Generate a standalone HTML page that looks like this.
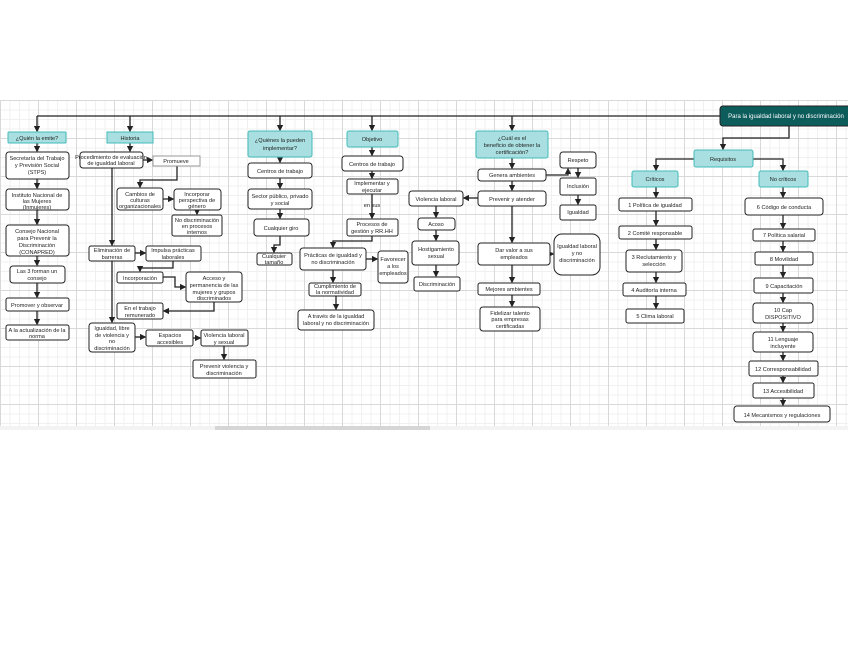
<!DOCTYPE html>
<html><head><meta charset="utf-8"><style>
html,body{margin:0;padding:0;background:#fff;}
body{width:848px;height:655px;position:relative;overflow:hidden;font-family:"Liberation Sans",sans-serif;}
.grid{position:absolute;left:0;top:100px;width:848px;height:326px;background-color:#fff;
background-image:linear-gradient(#d9d9d9 1px,transparent 1px),linear-gradient(90deg,#d9d9d9 1px,transparent 1px),linear-gradient(#f0f0f0 1px,transparent 1px),linear-gradient(90deg,#f0f0f0 1px,transparent 1px);
background-size:38px 38px,38px 38px,9.5px 9.5px,9.5px 9.5px;}
.sb{position:absolute;left:215px;top:426px;width:215px;height:4px;background:#d6d6d6;}
.sbt{position:absolute;left:0;top:426px;width:848px;height:4px;background:#f3f3f3;}
svg{position:absolute;left:0;top:0;}
text{font-family:"Liberation Sans",sans-serif;font-size:5.6px;fill:#222;text-anchor:middle;}
</style></head><body>
<div class="grid"></div><div class="sbt"></div><div class="sb"></div>
<svg width="848" height="655" viewBox="0 0 848 655">
<defs><marker id="a" markerWidth="5" markerHeight="5" refX="4" refY="2.5" orient="auto"><path d="M0,0L5,2.5L0,5z" fill="#222"/></marker></defs>
<g stroke="#222" stroke-width="1.3" fill="none">
<path d="M37,116H720"/>
<path d="M37,116V131" marker-end="url(#a)"/><path d="M130,116V131" marker-end="url(#a)"/><path d="M280,116V130" marker-end="url(#a)"/><path d="M372,116V130" marker-end="url(#a)"/><path d="M512,116V130" marker-end="url(#a)"/>
<path d="M789,126V138H723V149" marker-end="url(#a)"/>
<path d="M694,159H656V170" marker-end="url(#a)"/><path d="M753,159H783V170" marker-end="url(#a)"/>
<!-- col1 -->
<path d="M37,143V151" marker-end="url(#a)"/><path d="M37,179V188" marker-end="url(#a)"/><path d="M37,210V224" marker-end="url(#a)"/><path d="M37,256V265" marker-end="url(#a)"/><path d="M37,283V297" marker-end="url(#a)"/><path d="M37,311V324" marker-end="url(#a)"/>
<!-- col2 -->
<path d="M130,143V151" marker-end="url(#a)"/><path d="M143,160H152" marker-end="url(#a)"/><path d="M177,166V180H140V187" marker-end="url(#a)"/><path d="M163,199H173" marker-end="url(#a)"/><path d="M197,210V214" marker-end="url(#a)"/>
<path d="M112,168V245" marker-end="url(#a)"/><path d="M135,253H145" marker-end="url(#a)"/><path d="M173,261V268H140V271" marker-end="url(#a)"/><path d="M163,277H175V287H185" marker-end="url(#a)"/><path d="M214,302V311H164" marker-end="url(#a)"/><path d="M112,261V322" marker-end="url(#a)"/><path d="M135,337H145" marker-end="url(#a)"/><path d="M193,338H200" marker-end="url(#a)"/><path d="M224,346V359" marker-end="url(#a)"/>
<!-- col3 -->
<path d="M280,157V162" marker-end="url(#a)"/><path d="M280,178V188" marker-end="url(#a)"/><path d="M280,209V218" marker-end="url(#a)"/><path d="M280,236V245H274V252" marker-end="url(#a)"/>
<!-- col4 -->
<path d="M372,147V155" marker-end="url(#a)"/><path d="M372,171V178" marker-end="url(#a)"/><path d="M372,194V218" marker-end="url(#a)"/><path d="M372,236V241H333V247" marker-end="url(#a)"/><path d="M366,259H377" marker-end="url(#a)"/><path d="M333,270V282" marker-end="url(#a)"/><path d="M336,296V309" marker-end="url(#a)"/>
<!-- col5 -->
<path d="M512,158V168" marker-end="url(#a)"/><path d="M512,181V190" marker-end="url(#a)"/><path d="M478,198H464" marker-end="url(#a)"/><path d="M436,206V217" marker-end="url(#a)"/><path d="M436,230V240" marker-end="url(#a)"/><path d="M436,265V276" marker-end="url(#a)"/>
<path d="M512,206V242" marker-end="url(#a)"/><path d="M550,254H553" marker-end="url(#a)"/><path d="M512,265V282" marker-end="url(#a)"/><path d="M512,295V306" marker-end="url(#a)"/>
<path d="M546,175H568V169" marker-end="url(#a)"/><path d="M578,168V177" marker-end="url(#a)"/><path d="M578,195V204" marker-end="url(#a)"/>
<!-- crit -->
<path d="M656,187V197" marker-end="url(#a)"/><path d="M656,211V225" marker-end="url(#a)"/><path d="M656,239V249" marker-end="url(#a)"/><path d="M656,272V282" marker-end="url(#a)"/><path d="M656,296V308" marker-end="url(#a)"/>
<path d="M783,187V197" marker-end="url(#a)"/><path d="M783,215V228" marker-end="url(#a)"/><path d="M783,241V251" marker-end="url(#a)"/><path d="M783,265V277" marker-end="url(#a)"/><path d="M783,293V302" marker-end="url(#a)"/><path d="M783,323V331" marker-end="url(#a)"/><path d="M783,352V360" marker-end="url(#a)"/><path d="M783,376V382" marker-end="url(#a)"/><path d="M783,398V405" marker-end="url(#a)"/>
</g>
<g stroke="#222" stroke-width="1" fill="#fff">
<rect x="720" y="106" width="132" height="20" rx="3" fill="#0d5c5c"/>
<g fill="#a9dfe0" stroke="#4bb"><rect x="8" y="132" width="58" height="11" rx="1"/><rect x="107" y="132" width="46" height="11"/><rect x="248" y="131" width="64" height="26" rx="2"/><rect x="347" y="131" width="51" height="16" rx="2"/><rect x="476" y="131" width="72" height="27" rx="2"/><rect x="694" y="150" width="59" height="17" rx="2"/><rect x="632" y="171" width="46" height="16" rx="2"/><rect x="759" y="171" width="49" height="16" rx="2"/></g>
<rect x="6" y="152" width="63" height="27" rx="3"/><rect x="6" y="189" width="63" height="21" rx="3"/><rect x="6" y="225" width="63" height="31" rx="3"/><rect x="10" y="266" width="55" height="17" rx="3"/><rect x="6" y="298" width="63" height="13" rx="2"/><rect x="6" y="325" width="63" height="15" rx="2"/>
<rect x="80" y="152" width="63" height="16" rx="3"/><rect x="153" y="156" width="47" height="10" stroke="#999"/><rect x="117" y="188" width="46" height="22" rx="3"/><rect x="174" y="189" width="47" height="21" rx="3"/><rect x="172" y="215" width="50" height="21" rx="2"/><rect x="89" y="246" width="46" height="15" rx="2"/><rect x="146" y="246" width="55" height="15" rx="2"/><rect x="117" y="272" width="46" height="11" rx="2"/><rect x="186" y="272" width="56" height="30" rx="3"/><rect x="117" y="303" width="46" height="16" rx="2"/><rect x="89" y="323" width="46" height="29" rx="3"/><rect x="146" y="330" width="47" height="16" rx="2"/><rect x="201" y="330" width="47" height="16" rx="2"/><rect x="193" y="360" width="63" height="18" rx="2"/>
<rect x="248" y="163" width="64" height="15" rx="3"/><rect x="248" y="189" width="64" height="20" rx="3"/><rect x="254" y="219" width="55" height="17" rx="3"/><rect x="257" y="253" width="35" height="12" rx="2"/>
<rect x="342" y="156" width="61" height="15" rx="3"/><rect x="347" y="179" width="51" height="15" rx="2"/><rect x="347" y="219" width="51" height="17" rx="2"/><rect x="300" y="248" width="66" height="22" rx="3"/><rect x="378" y="251" width="30" height="32" rx="3"/><rect x="309" y="283" width="52" height="13" rx="2"/><rect x="298" y="310" width="76" height="20" rx="3"/>
<rect x="478" y="169" width="68" height="12" rx="3"/><rect x="478" y="191" width="68" height="15" rx="3"/><rect x="409" y="191" width="54" height="15" rx="3"/><rect x="418" y="218" width="37" height="12" rx="3"/><rect x="412" y="241" width="47" height="24" rx="3"/><rect x="414" y="277" width="46" height="14" rx="2"/><rect x="478" y="243" width="72" height="22" rx="3"/><rect x="478" y="283" width="62" height="12" rx="2"/><rect x="480" y="307" width="60" height="24" rx="3"/><rect x="554" y="234" width="46" height="41" rx="8"/><rect x="560" y="152" width="36" height="16" rx="3"/><rect x="560" y="178" width="36" height="17" rx="2"/><rect x="560" y="205" width="36" height="15" rx="2"/>
<rect x="619" y="198" width="73" height="13" rx="2"/><rect x="619" y="226" width="73" height="13" rx="2"/><rect x="626" y="250" width="56" height="22" rx="3"/><rect x="623" y="283" width="63" height="13" rx="2"/><rect x="626" y="309" width="58" height="14" rx="2"/>
<rect x="745" y="198" width="78" height="17" rx="3"/><rect x="753" y="229" width="62" height="12" rx="2"/><rect x="755" y="252" width="58" height="13" rx="2"/><rect x="754" y="278" width="59" height="15" rx="2"/><rect x="753" y="303" width="60" height="20" rx="3"/><rect x="753" y="332" width="60" height="20" rx="3"/><rect x="749" y="361" width="69" height="15" rx="2"/><rect x="753" y="383" width="61" height="15" rx="2"/><rect x="734" y="406" width="96" height="16" rx="3"/>
</g>
<g>
<text x="786" y="118" style="fill:#fff;font-size:6px">Para la igualdad laboral y no discriminación</text>
<text x="37" y="140">¿Quién la emite?</text><text x="130" y="140">Historia</text>
<text x="280" y="142">¿Quiénes la pueden</text><text x="280" y="150">implementar?</text>
<text x="372" y="141">Objetivo</text>
<text x="512" y="140">¿Cuál es el</text><text x="512" y="147">beneficio de obtener la</text><text x="512" y="154">certificación?</text>
<text x="723" y="161">Requisitos</text><text x="655" y="181">Críticos</text><text x="783" y="181">No críticos</text>
<text x="37" y="160">Secretaría del Trabajo</text><text x="37" y="167">y Previsión Social</text><text x="37" y="174">(STPS)</text>
<text x="37" y="197">Instituto Nacional de</text><text x="37" y="203">las Mujeres</text><text x="37" y="209">(Inmujeres)</text>
<text x="37" y="233">Consejo Nacional</text><text x="37" y="240">para Prevenir la</text><text x="37" y="247">Discriminación</text><text x="37" y="254">(CONAPRED)</text>
<text x="37" y="273">Las 3 forman un</text><text x="37" y="280">consejo</text>
<text x="37" y="307">Promover y observar</text><text x="37" y="332">A la actualización de la</text><text x="37" y="338">norma</text>
<text x="111" y="159">Procedimiento de evaluación</text><text x="111" y="165">de igualdad laboral</text><text x="176" y="163">Promueve</text>
<text x="140" y="196">Cambios de</text><text x="140" y="202">culturas</text><text x="140" y="208">organizacionales</text>
<text x="197" y="196">Incorporar</text><text x="197" y="202">perspectiva de</text><text x="197" y="208">género</text>
<text x="197" y="222">No discriminación</text><text x="197" y="228">en procesos</text><text x="197" y="234">internos</text>
<text x="112" y="252">Eliminación de</text><text x="112" y="259">barreras</text><text x="173" y="252">Impulsa prácticas</text><text x="173" y="259">laborales</text>
<text x="140" y="280">Incorporación</text>
<text x="214" y="280">Acceso y</text><text x="214" y="287">permanencia de las</text><text x="214" y="294">mujeres y grupos</text><text x="214" y="300">discriminados</text>
<text x="140" y="310">En el trabajo</text><text x="140" y="317">remunerado</text>
<text x="112" y="330">Igualdad, libre</text><text x="112" y="337">de violencia y</text><text x="112" y="343">no</text><text x="112" y="350">discriminación</text>
<text x="170" y="337">Espacios</text><text x="170" y="344">accesibles</text><text x="224" y="337">Violencia laboral</text><text x="224" y="344">y sexual</text>
<text x="224" y="368">Prevenir violencia y</text><text x="224" y="375">discriminación</text>
<text x="280" y="173">Centros de trabajo</text><text x="280" y="198">Sector público, privado</text><text x="280" y="205">y social</text><text x="281" y="230">Cualquier giro</text><text x="274" y="258">Cualquier</text><text x="274" y="264">tamaño</text>
<text x="372" y="166">Centros de trabajo</text><text x="372" y="185">Implementar y</text><text x="372" y="192">ejecutar</text><text x="372" y="207">en sus</text>
<text x="372" y="226">Procesos de</text><text x="372" y="233">gestión y RR.HH</text>
<text x="333" y="257">Prácticas de igualdad y</text><text x="333" y="264">no discriminación</text>
<text x="393" y="261">Favorecer</text><text x="393" y="268">a los</text><text x="393" y="275">empleados</text>
<text x="335" y="288">Cumplimiento de</text><text x="335" y="294">la normatividad</text>
<text x="336" y="318">A través de la igualdad</text><text x="336" y="325">laboral y no discriminación</text>
<text x="512" y="177">Genera ambientes</text><text x="512" y="201">Prevenir y atender</text><text x="436" y="201">Violencia laboral</text><text x="436" y="226">Acoso</text>
<text x="436" y="251">Hostigamiento</text><text x="436" y="258">sexual</text><text x="437" y="286">Discriminación</text>
<text x="514" y="252">Dar valor a sus</text><text x="514" y="259">empleados</text><text x="509" y="291">Mejores ambientes</text>
<text x="510" y="315">Fidelizar talento</text><text x="510" y="321">para empresas</text><text x="510" y="328">certificadas</text>
<text x="577" y="248">Igualdad laboral</text><text x="577" y="255">y no</text><text x="577" y="262">discriminación</text>
<text x="578" y="162">Respeto</text><text x="578" y="188">Inclusión</text><text x="578" y="214">Igualdad</text>
<text x="655" y="207">1 Política de igualdad</text><text x="655" y="235">2 Comité responsable</text><text x="654" y="259">3 Reclutamiento y</text><text x="654" y="266">selección</text><text x="654" y="292">4 Auditoría interna</text><text x="655" y="318">5 Clima laboral</text>
<text x="784" y="209">6 Código de conducta</text><text x="784" y="237">7 Política salarial</text><text x="784" y="261">8 Movilidad</text><text x="784" y="288">9 Capacitación</text><text x="783" y="312">10 Cap</text><text x="783" y="319">DISPOSITIVO</text><text x="783" y="341">11 Lenguaje</text><text x="783" y="348">incluyente</text><text x="783" y="371">12 Corresponsabilidad</text><text x="783" y="393">13 Accesibilidad</text><text x="782" y="417">14 Mecanismos y regulaciones</text>
</g>
</svg>
</body></html>
